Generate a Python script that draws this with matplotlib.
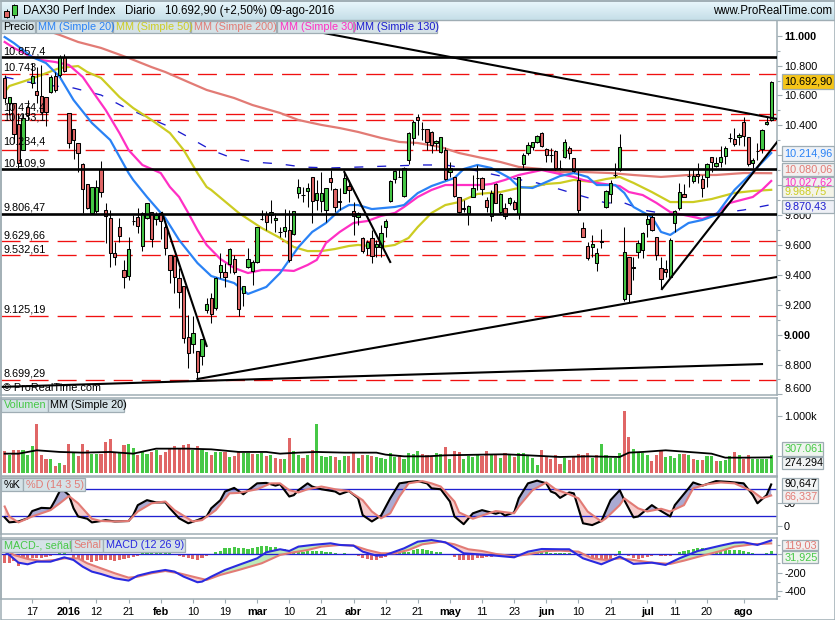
import numpy as np
import matplotlib
matplotlib.use("Agg")
import matplotlib.pyplot as plt
from matplotlib.patches import Rectangle

plt.rcParams['font.family'] = ['Liberation Sans', 'DejaVu Sans']
plt.rcParams['lines.scale_dashes'] = False

# ---------- candles ----------
opens = [10715,10548,10548,10407,10236,10525,10681,10632,10599,10592,
 10621,10731,10737,10860,10481,10374,10285,10140,10006,9812,
 9830,10106,9834,9779,9544,9718,9433,9395,9763,9790,
 9596,9779,9819,9772,9812,9718,9533,9527,9377,9326,
 8982,8936,8889,8858,9165,9243,9176,9422,9417,9473,
 9504,9395,9277,9451,9426,9484,9774,9805,9801,9767,
 9689,9696,9700,9674,9946,9935,9964,10053,9901,9894,
 9834,10046,9972,9897,9950,9992,9830,9785,9645,9580,
 9645,9589,9589,9718,9897,10039,10057,9930,10169,10314,
 10454,10374,10374,10358,10280,10220,10236,10086,10053,9923,
 9850,9812,9923,10051,10051,9901,9794,10006,9823,9845,
 9879,9890,9807,10142,10213,10258,10291,10352,10240,10200,
 10231,10112,10190,10246,10179,10034,9711,9593,9588,9477,
 9625,9851,9938,10068,10101,9236,9517,9454,9555,9566,
 9738,9789,9651,9448,9437,9387,9744,9845,9938,10063,
 10030,10074,10039,10057,10190,10128,10152,10197,10317,10306,
 10320,10422,10324,10146,10230,10239,10409,10436]
highs = [10737,10592,10548,10481,10481,10570,10815,10793,10804,10592,
 10737,10760,10871,10880,10481,10374,10285,10146,10006,9990,
 10035,10162,9883,9834,9622,9779,9500,9656,9801,9845,
 9823,9879,9819,9823,9823,9756,9533,9527,9444,9326,
 9132,9125,8889,8969,9243,9277,9388,9544,9477,9578,
 9533,9395,9326,9578,9500,9718,9834,9830,9901,9812,
 9720,9839,9834,9830,10039,9990,10013,10053,10035,10091,
 9984,10102,9979,9979,10102,10035,9890,9823,9656,9633,
 9700,9633,9734,9772,10035,10102,10106,10124,10358,10436,
 10476,10425,10374,10365,10302,10325,10258,10157,10053,9923,
 9901,9868,10068,10135,10053,9923,9968,10013,9946,9879,
 9923,9901,10057,10213,10291,10291,10336,10358,10247,10247,
 10236,10168,10306,10262,10184,10101,9751,9622,9666,9577,
 9706,9965,10034,10146,10342,9722,9517,9521,9633,9689,
 9800,9800,9655,9521,9499,9644,9833,10012,10007,10106,
 10106,10150,10068,10146,10190,10190,10262,10262,10351,10380,
 10351,10458,10324,10179,10279,10373,10458,10699]
lows = [10548,10470,10280,10113,10236,10436,10648,10548,10481,10396,
 10615,10626,10726,10760,10247,10173,10091,9812,9840,9805,
 9812,9923,9611,9455,9466,9622,9310,9366,9734,9678,
 9562,9775,9589,9734,9638,9533,9344,9277,9176,8942,
 8775,8875,8701,8797,9143,9076,9165,9377,9317,9411,
 9406,9125,9192,9444,9333,9477,9767,9700,9745,9689,
 9650,9656,9489,9667,9912,9890,9857,9749,9834,9823,
 9756,9968,9823,9834,9946,9890,9667,9734,9544,9533,
 9482,9522,9522,9656,9890,10013,10053,9919,10142,10269,
 10336,10302,10236,10213,10236,10213,10035,10057,9923,9812,
 9823,9734,9919,9968,9935,9823,9763,9879,9807,9772,
 9868,9834,9772,10113,10202,10236,10280,10258,10157,10157,
 10102,10101,10179,10172,10090,9816,9655,9499,9521,9425,
 9577,9849,9878,10052,10097,9227,9220,9365,9510,9510,
 9655,9695,9499,9305,9387,9387,9689,9833,9918,9985,
 10016,10012,9918,9990,10090,10119,10119,10141,10291,10262,
 10268,10262,10128,10112,10168,10217,10402,10431]
closes = [10586,10592,10340,10146,10447,10470,10733,10603,10492,10487,
 10722,10637,10860,10766,10280,10302,10213,9975,9845,9986,
 9986,9957,9794,9544,9518,9663,9388,9571,9763,9730,
 9812,9879,9638,9801,9761,9578,9433,9388,9283,8976,
 8875,9014,8753,8969,9203,9136,9377,9464,9384,9571,
 9417,9172,9326,9509,9489,9718,9774,9752,9823,9779,
 9689,9718,9500,9830,9986,9935,9979,9894,9946,9946,
 9984,10019,9852,9886,10046,9966,9794,9812,9562,9620,
 9529,9607,9678,9761,10028,10095,10057,10117,10347,10421,
 10436,10374,10291,10269,10298,10320,10039,10113,9928,9823,
 9840,9863,9979,10051,9972,9857,9950,9883,9939,9794,
 9912,9839,10053,10200,10271,10287,10331,10262,10202,10200,
 10113,10112,10286,10213,10094,9833,9655,9515,9604,9548,
 9620,9961,10016,10068,10253,9555,9269,9443,9611,9677,
 9771,9700,9532,9370,9417,9631,9829,9956,9923,10063,
 10061,10061,9978,10139,10155,10146,10190,10246,10317,10273,
 10333,10329,10139,10168,10230,10367,10422,10692.9]

# ---------- moving averages: sessions ----------
ma20_idx = [0,2,6,9,12,15,19,23,27,28,31,35,38,42,45,50,53,57,60,64,67,70,73,75,77,80,85,87,90,93,98,100,103,106,110,112,115,118,121,124,127,129,133,135,137,141,143,145,149,152,155,159,163,167]
ma20_val = [10991,10951,10857,10817,10724,10570,10416,10302,10081,10035,9921,9780,9633,9479,9392,9345,9272,9319,9412,9586,9687,9747,9834,9867,9867,9840,9854,9867,9947,9994,10048,10108,10135,10115,10048,9988,9981,10021,10061,10081,10055,10001,10001,9948,9854,9787,9687,9667,9747,9767,9800,9968,10088,10215]
ma30_idx = [0,2,5,8,11,14,17,20,22,25,27,30,34,36,38,40,42,44,47,50,53,56,60,63,66,68,70,73,76,79,82,85,87,90,93,96,99,104,106,109,112,117,120,124,126,129,134,136,139,142,145,149,152,155,158,163,165,167]
ma30_val = [10958,10918,10871,10837,10824,10804,10724,10590,10503,10349,10235,10135,10081,9988,9921,9814,9700,9600,9506,9446,9412,9432,9432,9426,9466,9500,9613,9687,9747,9760,9794,9814,9854,9921,9968,10001,10001,10001,10008,10035,10068,10101,10081,10055,10035,10015,9994,9954,9934,9881,9820,9794,9774,9807,9881,9921,9968,10028]
ma50_idx = [0,1,5,8,12,16,18,21,25,28,32,36,39,42,44,45,51,56,60,63,66,69,72,75,77,82,85,88,90,93,96,99,103,108,112,115,118,121,124,128,131,134,137,141,145,150,154,159,163,167]
ma50_val = [10623,10663,10703,10737,10784,10797,10757,10717,10590,10516,10436,10349,10235,10081,9988,9968,9814,9713,9647,9586,9559,9559,9573,9593,9600,9586,9600,9647,9720,9814,9867,9887,9941,9954,9981,9988,10008,10015,10035,10021,10041,10055,10015,9954,9887,9887,9907,9948,9961,9968.75]
ma200_idx = [3,12,16,21,27,32,35,40,44,50,54,60,64,69,73,77,82,86,90,95,99,104,108,112,117,121,126,132,137,143,149,155,161,167]
ma200_val = [11100,11005,10958,10918,10851,10790,10757,10690,10637,10583,10536,10483,10436,10403,10382,10356,10316,10289,10282,10255,10215,10182,10155,10122,10108,10088,10088,10081,10068,10055,10068,10068,10081,10080]
ma130_idx = [0,5,11,15,21,26,30,36,40,45,49,54,60,65,71,77,84,91,96,100,105,109,116,120,125,131,135,139,144,150,156,161,167]
ma130_val = [10724,10690,10663,10650,10603,10523,10469,10389,10322,10235,10188,10155,10142,10121,10115,10121,10128,10135,10135,10115,10081,10055,10015,9981,9934,9881,9881,9834,9807,9794,9814,9834,9870]

# ---------- horizontal levels ----------
solid_levels = [10857.4, 10109.9, 9806.47]
dashed_levels = [10743, 10474.4, 10433.1, 10234.4, 9629.66, 9532.61, 9125.19, 8699.29]
level_labels = ["10.857,4","10.743","10.474,4","10.433,1","10.234,4","10.109,9","9.806,47","9.629,66","9.532,61","9.125,19","8.699,29"]

# ---------- trend lines: (session, price) pairs ----------
trend_a = ([68.3,168.3],[11025,10443])
trend_b = ([42,168.3],[8703,9386])
trend_c = ([-1,165],[8650,8803])
trend_d = ([34.3,44],[9814,8924])
trend_e = ([74,84],[10088,9486])
trend_f = ([143.2,168.3],[9305,10289])

# ---------- volume (thousands) ----------
volume = [380,322,398,398,398,310,468,854,310,252,252,117,181,135,503,351,292,503,398,339,
 339,339,544,591,357,357,486,503,439,310,386,333,369,398,322,369,439,468,439,486,
 503,398,468,398,369,310,369,369,369,275,298,369,357,357,328,328,351,298,310,263,
 250,252,614,380,310,263,322,398,854,298,281,298,275,228,298,298,357,263,322,310,
 298,275,263,252,357,281,322,252,357,339,380,339,322,281,357,339,450,240,380,369,
 240,298,281,322,298,380,322,322,263,357,310,281,357,357,298,263,135,398,281,240,
 322,164,269,222,292,339,322,357,269,322,515,310,269,269,357,1082,626,415,357,357,
 310,205,310,386,281,292,269,328,328,310,252,222,222,292,292,205,211,222,298,369,
 310,252,310,252,252,252,252,307]
vol_ma_idx = [0,3,7,12,17,23,28,33,40,45,51,57,60,64,68,74,81,83,87,92,96,104,109,114,121,127,134,136,139,144,149,154,157,161,167]
vol_ma_val = [339,339,398,369,357,369,339,427,427,415,369,369,339,357,369,357,357,322,292,292,310,322,328,310,281,292,281,357,369,398,369,339,269,269,274]

# ---------- stochastic ----------
k_idx = [0,1,3,5,6,8,10,11,12,13,14,15,16,18,19,21,22,24,27,28,29,31,33,35,36,38,40,42,44,45,47,48,50,51,52,55,57,59,
 60,62,63,64,66,67,69,72,73,75,77,78,80,82,84,86,88,90,92,93,95,97,98,100,102,104,107,108,109,111,112,114,116,118,119,
 120,121,123,124,126,128,130,132,134,135,137,138,141,142,145,146,149,150,152,155,158,161,163,164,166,167]
k_val = [18,7,9,16,32,39,38,56,76,76,67,38,20,15,7,10,12,9,10,23,45,56,51,51,38,16,5,12,20,38,56,75,83,76,69,93,94,88,
 91,64,67,78,93,86,80,75,69,76,60,23,9,22,60,93,96,98,93,82,80,53,20,3,27,34,26,29,22,29,60,93,99,93,75,
 71,61,73,71,5,1,10,56,78,56,18,20,45,38,20,45,82,95,88,98,96,93,67,49,67,90.6]
d_idx = [0,1,3,6,10,12,14,16,19,21,24,27,29,32,35,37,41,43,46,49,51,55,58,
 60,62,64,66,69,72,75,78,80,82,84,86,88,91,93,95,98,99,102,104,107,111,112,115,118,
 120,123,125,127,130,131,134,135,138,140,143,145,148,150,153,156,159,163,165,167]
d_val = [42,20,7,20,34,49,65,49,15,10,9,10,31,49,53,34,9,12,34,71,72,80,93,
 93,78,73,80,86,80,76,56,31,16,27,64,93,98,93,86,53,29,15,22,32,27,42,78,95,
 80,69,60,31,9,16,45,60,38,31,37,31,45,82,91,95,93,75,60,66.3]

# ---------- MACD ----------
macd_hist = [-98,-98,-69,-124,-98,-62,-36,-44,-44,-25,-15,0,18,29,0,-36,-44,-69,-62,-80,
 -69,-62,-62,-62,-69,-62,-55,-44,-25,-15,18,22,29,22,18,18,11,0,-18,-33,
 -44,-47,-58,-44,-22,0,22,40,65,73,80,65,65,58,65,84,91,91,84,76,
 58,55,40,40,47,29,40,40,40,33,25,22,11,0,15,0,-7,-22,-44,-51,
 -58,-58,-44,-29,-7,0,18,29,29,51,58,58,44,36,29,22,0,-11,-29,-58,
 -58,-58,-58,-44,-36,-29,-29,-22,-15,-7,-7,0,0,7,15,15,18,22,22,18,
 15,11,11,11,0,-22,-44,-55,-69,-80,-87,-69,-51,-15,36,0,-18,-44,-51,-36,
 -25,-15,0,-15,-22,-22,0,22,36,44,58,65,69,65,58,58,58,58,51,51,
 44,36,22,11,0,7,15,32]
macd_idx = [0,1,3,5,7,10,13,15,17,19,21,24,27,29,32,35,37,39,42,43,45,48,51,55,57,60,62,64,67,71,73,76,78,81,83,87,90,93,96,98,100,103,107,111,114,117,121,123,126,130,134,137,141,144,147,151,156,159,161,164,167]
macd_val = [29,-7,-91,-109,-80,-80,-33,-62,-135,-189,-215,-262,-287,-233,-196,-171,-189,-244,-305,-298,-244,-171,-116,-44,22,55,36,84,102,120,102,95,29,-15,-7,65,138,156,131,73,11,0,-15,-33,29,58,55,55,-44,-109,-25,-105,-91,-116,-44,36,95,127,131,102,151]
signal_idx = [0,2,5,8,11,13,16,18,21,24,27,29,32,35,38,41,44,47,51,56,60,63,66,69,73,76,79,82,85,88,91,95,98,101,104,107,111,114,118,121,125,128,131,134,137,141,145,148,152,156,159,163,167]
signal_val = [58,-7,-51,-73,-62,-44,-44,-98,-153,-207,-255,-244,-207,-182,-207,-244,-280,-225,-171,-98,-7,22,47,84,102,95,47,11,11,47,109,138,109,55,36,4,-22,0,36,40,29,-44,-62,-44,-62,-91,-105,-69,-15,36,84,109,119]

# ---------- date axis ----------
date_idx = [6,14,20,27,34,41,48,55,62,69,76,83,90,97,104,111,118,125,132,140,146,153,161]
date_lab = ["17","2016","12","21","feb","10","19","mar","10","21","abr","12","21","may","11","23","jun","10","21","jul","11","20","ago"]
date_bold = ["2016","feb","mar","abr","may","jun","jul","ago"]

# ---------- styles ----------
W, H = 835, 620
FS = 7.8
FRAME = '#9fadb4'
GREEN, RED = '#46c846', '#e06666'
BLUE20, YEL50, SAL200, MAG30, BLUE130 = '#2a82f5', '#cccc22', '#e27b75', '#ff2fc4', '#1c1ccf'
X0, X1 = (1-4.67)/4.59, (777-4.67)/4.59

fig = plt.figure(figsize=(W/100, H/100), dpi=100, facecolor='white')

def panel(top, bottom, ylim):
    ax = fig.add_axes([1/W, 1-bottom/H, 776/W, (bottom-top)/H])
    ax.set_xlim(X0, X1)
    ax.set_ylim(*ylim)
    for s in ax.spines.values():
        s.set_color(FRAME); s.set_linewidth(1.1)
    ax.yaxis.tick_right()
    ax.tick_params(axis='y', which='major', length=3.6, width=0.8, color=FRAME, labelsize=FS, pad=1.5)
    ax.tick_params(axis='y', which='minor', length=2, width=0.8, color=FRAME)
    ax.set_xticks([])
    return ax

# ---- price panel
ax = panel(20, 395, (8596, 11105))
for v in dashed_levels:
    ax.plot([X0, X1], [v, v], color='#f01010', lw=0.95, ls=(0, (13.7, 6.5)), zorder=1)
ax.plot(ma130_idx, ma130_val, color=BLUE130, lw=0.95, ls=(0, (6.5, 10)), zorder=2)
ax.plot(ma200_idx, ma200_val, color=SAL200, lw=1.6, zorder=2)
ax.plot(ma50_idx, ma50_val, color=YEL50, lw=1.6, zorder=2)
ax.plot(ma30_idx, ma30_val, color=MAG30, lw=1.6, zorder=2)
ax.plot(ma20_idx, ma20_val, color=BLUE20, lw=1.6, zorder=2)
xs = np.arange(len(closes))
o, h, l, c = map(np.array, (opens, highs, lows, closes))
ax.vlines(xs, l, h, color='black', lw=0.75, zorder=3)
cols = [GREEN if a > b else RED for a, b in zip(c, o)]
ax.bar(xs, c-o, bottom=o, width=0.72, color=cols, edgecolor='black', linewidth=0.75, zorder=4)
for v in solid_levels:
    ax.plot([X0, X1], [v, v], color='black', lw=1.9, zorder=5, solid_capstyle='butt')
for t in (trend_a, trend_b, trend_c, trend_d, trend_e, trend_f):
    ax.plot(t[0], t[1], color='black', lw=1.5, zorder=5)
ticks = list(range(8600, 11001, 200))
ax.set_yticks(ticks)
ax.set_yticklabels([f"{v//1000}.{v%1000:03d}" for v in ticks])
ax.set_yticks(list(range(8700, 11000, 200)), minor=True)
for lab, v in zip(ax.get_yticklabels(), ticks):
    if v in (11000, 9000):
        lab.set_fontweight('bold')
    if v == 8600:
        lab.set_verticalalignment('bottom')

# ---- volume panel
axv = panel(398, 476, (-53, 1316))
vc = np.array(closes)
vcols = [RED] + [GREEN if vc[i] >= vc[i-1] else RED for i in range(1, len(vc))]
axv.bar(np.arange(len(volume)), volume, width=0.68, color=vcols, linewidth=0, zorder=2)
axv.plot(vol_ma_idx, vol_ma_val, color='black', lw=1.3, zorder=3)
axv.set_yticks([300, 1000])
axv.set_yticklabels(["300.000", "1.000k"])

# ---- stochastic panel
axs = panel(477, 534, (-18.6, 107))
gx = np.linspace(0, len(closes)-1, 1600)
gk, gd = np.interp(gx, k_idx, k_val), np.interp(gx, d_idx, d_val)
axs.fill_between(gx, gk, gd, where=gk >= gd, color='#aaaad2', lw=0, zorder=1)
axs.fill_between(gx, gk, gd, where=gk < gd, color='#f6cccc', lw=0, zorder=1)
axs.axhline(80, color='#2020d0', lw=0.95, zorder=2)
axs.axhline(20, color='#2020d0', lw=0.95, zorder=2)
axs.plot(k_idx, k_val, color='black', lw=1.5, zorder=3)
axs.plot(d_idx, d_val, color=SAL200, lw=1.5, zorder=4)
axs.set_yticks([0, 50])
axs.set_yticklabels(["0", "50"])

# ---- MACD panel
axm = panel(538, 599, (-488, 178))
mh = np.array(macd_hist)
axm.bar(np.arange(len(mh)), mh, width=0.68, color=[GREEN if v >= 0 else RED for v in mh], linewidth=0, zorder=1)
gm, gs = np.interp(gx, macd_idx, macd_val), np.interp(gx, signal_idx, signal_val)
axm.fill_between(gx, gm, gs, where=gm >= gs, color='#bdeab8', lw=0, zorder=2)
axm.fill_between(gx, gm, gs, where=gm < gs, color='#f6cccc', lw=0, zorder=2)
axm.axhline(0, color='#2020d0', lw=0.95, zorder=3)
axm.plot(signal_idx, signal_val, color=SAL200, lw=1.5, zorder=4)
axm.plot(macd_idx, macd_val, color='#2a2ae0', lw=1.5, zorder=5)
axm.set_yticks([-400, -200, 0])
axm.set_yticklabels(["-400", "-200", "0"])
axm.set_yticks([-450, -300, -100, 100], minor=True)
axm.set_xticks(date_idx)
axm.set_xticklabels(date_lab)
axm.tick_params(axis='x', length=3, width=0.8, color=FRAME, labelsize=FS, pad=2.5)
for lab in axm.get_xticklabels():
    if lab.get_text() in date_bold:
        lab.set_fontweight('bold')

# ---- chrome overlay in pixel units
ov = fig.add_axes([0, 0, 1, 1], zorder=20)
ov.patch.set_alpha(0)
ov.axis('off')
grad = np.linspace(0, 1, 20).reshape(-1, 1)
ov.imshow(grad, extent=(0, W, 20, 0), aspect='auto', cmap=matplotlib.colors.LinearSegmentedColormap.from_list('t', ['#eaf7fc', '#c6dfe9']), zorder=1)
ov.set_xlim(0, W); ov.set_ylim(H, 0)
ov.add_patch(Rectangle((0.5, 0.5), W-1, H-1, fill=False, ec=FRAME, lw=1.1, zorder=2))
ov.plot([0, W], [0.5, 0.5], color=FRAME, lw=1.2, zorder=2)
ov.plot([0, W], [19.5, 19.5], color=FRAME, lw=1, zorder=2)

def txt(x, y, s, color='black', ha='left', weight='normal', z=6, fs=FS):
    ov.text(x, y, s, color=color, ha=ha, va='center', fontsize=fs, fontweight=weight, zorder=z)

def tag(x0, x1, y0, y1, s, color='black', bg='#d5e2e7', ha='left'):
    ov.add_patch(Rectangle((x0, y0), x1-x0, y1-y0, fc=bg, ec=FRAME, lw=0.9, zorder=5))
    tx = x0+2.5 if ha == 'left' else (x0+x1)/2
    txt(tx, (y0+y1)/2, s, color=color, ha=ha)

# title bar
ov.vlines([6.5, 14], [9, 4], [18, 18], color='black', lw=0.7, zorder=3)
ov.add_patch(Rectangle((4, 11), 5, 6, fc=RED, ec='black', lw=0.7, zorder=4))
ov.add_patch(Rectangle((11.5, 5), 5, 10, fc=GREEN, ec='black', lw=0.7, zorder=4))
TFS = 8.3
txt(23, 11, "DAX30 Perf Index", fs=TFS)
txt(125, 11, "Diario", fs=TFS)
txt(165, 11, "10.692,90 (+2,50%)", fs=TFS)
txt(269, 11, "09-ago-2016", fs=TFS)
txt(832, 11, "www.ProRealTime.com", ha='right', fs=TFS)

# legend tags
tag(1, 35, 21, 33, "Precio")
tag(36, 112, 21, 33, "MM (Simple 20)", BLUE20)
tag(113, 190, 21, 33, "MM (Simple 50)", YEL50)
tag(191, 276, 21, 33, "MM (Simple 200)", SAL200)
tag(277, 353, 21, 33, "MM (Simple 30)", MAG30)
tag(354, 437, 21, 33, "MM (Simple 130)", BLUE130)
tag(1, 48, 399, 412, "Volumen", GREEN)
tag(48, 124, 399, 412, "MM (Simple 20)")
tag(1, 23, 478, 491, "%K")
tag(23, 85, 478, 491, "%D (14 3 5)", SAL200)
tag(1, 71, 539, 552, "MACD-, señal", GREEN)
tag(71, 103, 539, 552, "Señal", SAL200)
tag(103, 185, 539, 552, "MACD (12 26 9)", '#2a2ae0')

# level labels on the left
for s, y in zip(level_labels, [52, 68, 108, 117, 141, 163, 208, 235, 249.5, 310, 373.5]):
    txt(3.5, y, s)
txt(3, 388, "© ProRealTime.com")

# value tags on the right
tag(782, 834, 74, 89, "10.692,90", bg='#f5c518')
tag(782, 834, 146, 161, "10.214,96", BLUE20, bg='#eef2f8')
tag(782, 834, 163, 176, "10.080,06", SAL200, bg='#f2f0f0')
tag(782, 834, 177, 188, "10.027,62", MAG30, bg='#f2f0f0')
tag(782, 834, 186, 197, "9.968,75", YEL50, bg='#f4f4e8')
tag(782, 834, 200, 213, "9.870,43", BLUE130, bg='#eef0f6')
tag(782, 823, 442, 456, "307.061", GREEN, bg='#eef4ee')
tag(782, 823, 457, 469, "274.294", bg='#f2f4f5')
tag(782, 818, 478, 490, "90,647", bg='#f2f4f5')
tag(782, 818, 490, 503, "66,337", SAL200, bg='#f2f0f0')
tag(782, 818, 540, 550, "119,03", SAL200, bg='#f2f0f0')
tag(782, 818, 551, 563, "31,925", GREEN, bg='#eef4ee')

fig.savefig('out.png', dpi=100)
